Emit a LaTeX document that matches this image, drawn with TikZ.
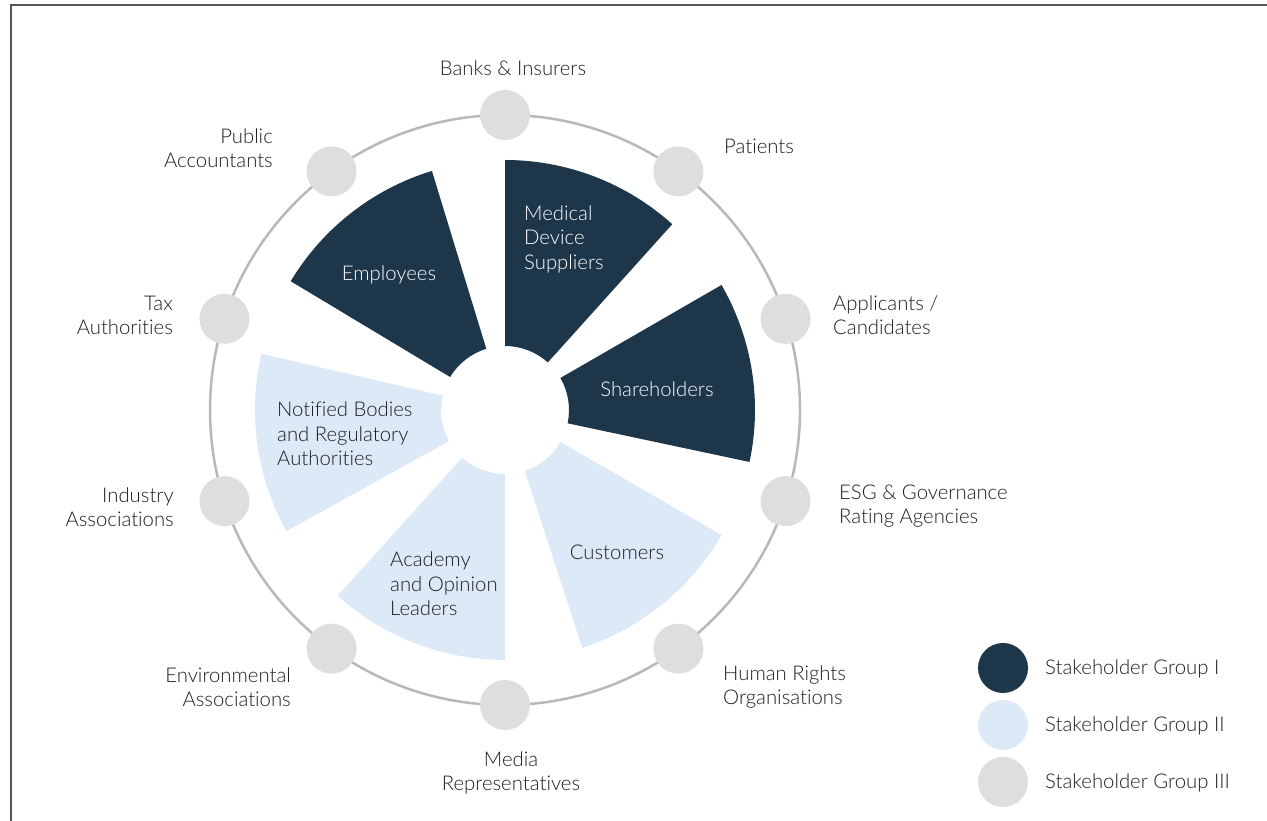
\documentclass[tikz,border=0pt]{standalone}
\usepackage{fontspec}
\setmainfont{Lato Light}[Ligatures={NoCommon}]
\usetikzlibrary{calc}
\definecolor{gDark}{HTML}{1D3649}
\definecolor{gLight}{HTML}{DCE9F7}
\definecolor{gGray}{HTML}{DEDEDE}
\definecolor{ringCol}{HTML}{B8B8B8}
\definecolor{txtCol}{HTML}{1E1E1E}
\definecolor{frameCol}{HTML}{555555}
\tikzset{
  dot/.style={circle, minimum size=50pt, inner sep=0pt},
  outlbl/.style={font=\fontsize{20.3}{24}\selectfont, text=txtCol, inner sep=0pt},
  inlbl/.style={font=\fontsize{20.3}{24.5}\selectfont, inner sep=0pt},
}
\begin{document}
\begin{tikzpicture}[x=1pt,y=1pt]
\useasboundingbox (0,0) rectangle (1267,821);
\draw[frameCol, line width=1.6pt] (11,0) -- (11,816) -- (1267,816);
% ring
\coordinate (C) at (505,411);
\draw[ringCol, line width=2.5pt] (C) circle[radius=295];
% sectors
\foreach \a/\col in {48/gDark,107/gDark,167/gLight,228/gLight,288/gLight,348/gDark}{
  \pgfmathsetmacro{\b}{\a+42}
  \fill[\col, shift={(505,411)}] (\a:64) -- (\a:250) arc[start angle=\a, end angle=\b, radius=250]
     -- (\b:64) arc[start angle=\b, end angle=\a, radius=64] -- cycle;
}
% outer dots
\node[dot, fill=gGray] (banks) at ($(C)+(90:295)$) {};
\node[dot, fill=gGray] (patients) at ($(C)+(54:295)$) {};
\node[dot, fill=gGray] (applicants) at ($(C)+(18:295)$) {};
\node[dot, fill=gGray] (esg) at ($(C)+(-18:295)$) {};
\node[dot, fill=gGray] (human) at ($(C)+(-54:295)$) {};
\node[dot, fill=gGray] (media) at ($(C)+(-90:295)$) {};
\node[dot, fill=gGray] (environ) at ($(C)+(-126:295)$) {};
\node[dot, fill=gGray] (industry) at ($(C)+(198:295)$) {};
\node[dot, fill=gGray] (tax) at ($(C)+(162:295)$) {};
\node[dot, fill=gGray] (public) at ($(C)+(126:295)$) {};
% outer labels
\node[outlbl] (lbanks) at (513,753) {Banks \& Insurers};
\node[outlbl, anchor=east, align=right] (lpublic) at (273,673) {Public\\Accountants};
\node[outlbl, anchor=west] (lpatients) at (724,675) {Patients};
\node[outlbl, anchor=east, align=right] (ltax) at (173,506) {Tax\\Authorities};
\node[outlbl, anchor=west, align=left] (lapplicants) at (833,506) {Applicants /\\Candidates};
\node[outlbl, anchor=east, align=right] (lindustry) at (174,314) {Industry\\Associations};
\node[outlbl, anchor=west, align=left] (lesg) at (839,314.5) {ESG \& Governance\\Rating Agencies};
\node[outlbl, anchor=east, align=right] (lenviron) at (291,134) {Environmental\\Associations};
\node[outlbl, anchor=west, align=left] (lhuman) at (723,134) {Human Rights\\Organisations};
\node[outlbl, align=center] (lmedia) at (511,48) {Media\\Representatives};
% sector labels
\node[inlbl, text=white, anchor=west, align=left] (smedical) at (524,582) {Medical\\Device\\Suppliers};
\node[inlbl, text=white] (semployees) at (389,546) {Employees};
\node[inlbl, text=white] (sshare) at (657,432) {Shareholders};
\node[inlbl, text=txtCol, anchor=west, align=left] (snotified) at (277,387) {Notified Bodies\\and Regulatory\\Authorities};
\node[inlbl, text=txtCol] (scustomers) at (617,269) {Customers};
\node[inlbl, text=txtCol, anchor=west, align=left] (sacademy) at (390,237) {Academy\\and Opinion\\Leaders};
% legend
\node[dot, fill=gDark] (leg1) at (1003,153) {};
\node[dot, fill=gLight] (leg2) at (1003,96) {};
\node[dot, fill=gGray] (leg3) at (1003,39) {};
\node[outlbl, anchor=west] (tleg1) at (1045,152) {Stakeholder Group I};
\node[outlbl, anchor=west] (tleg2) at (1045,95) {Stakeholder Group II};
\node[outlbl, anchor=west] (tleg3) at (1045,38) {Stakeholder Group III};
\end{tikzpicture}
\end{document}
